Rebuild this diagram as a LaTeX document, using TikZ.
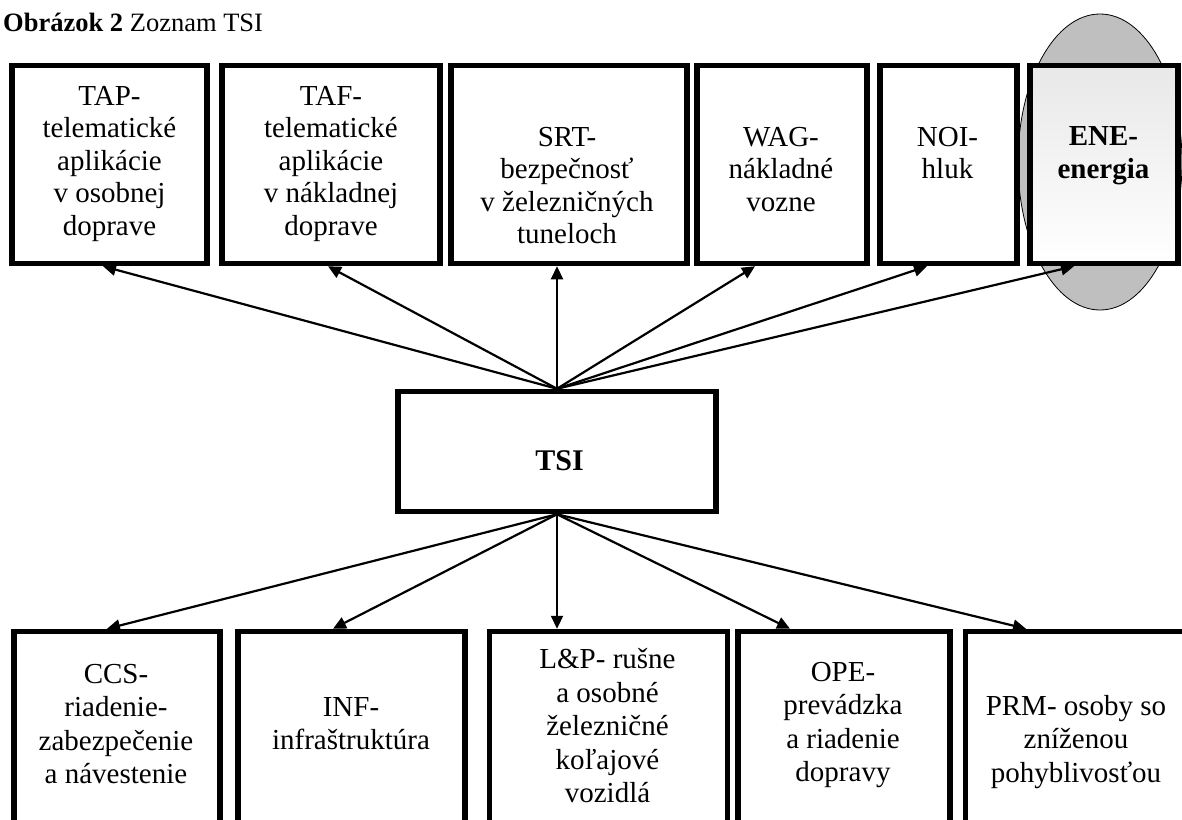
\documentclass[tikz,border=0pt]{standalone}
\usepackage{fontspec}
\setmainfont{Liberation Serif}
\usetikzlibrary{arrows.meta,shapes.geometric}
\begin{document}
\begin{tikzpicture}[x=1pt,y=-1pt,
  box/.style={draw=black,line width=5.5pt,fill=white,inner sep=0pt},
  topbox/.style={box,minimum height=198pt},
  botbox/.style={box,minimum height=268.5pt},
  txt/.style={align=center,inner sep=0pt,anchor=north},
  toptext/.style={txt,font=\fontsize{29}{32.5}\selectfont},
  bottext/.style={txt,font=\fontsize{29}{33.5}\selectfont},
  conn/.style={line width=2.2pt,-{Triangle[length=13pt,width=12pt]}}]
\clip (0,0) rectangle (1182,819);
\fill[white] (0,0) rectangle (1182,819);

% title
\node[anchor=base west,inner sep=0pt,font=\fontsize{26.5}{30}\selectfont] (title) at (3,31) {\textbf{Obrázok 2} Zoznam TSI};

% grey ellipse behind ENE
\node[ellipse,draw=black,line width=0.8pt,fill=black!25,minimum width=164pt,minimum height=296pt,inner sep=0pt] (ell) at (1100,162) {};

% top boxes
\node[topbox,minimum width=195pt] (tap) at (109.5,164.5) {};
\node[topbox,minimum width=218pt] (taf) at (331,164.5) {};
\node[topbox,minimum width=236pt] (srt) at (569,164.5) {};
\node[topbox,minimum width=170pt] (wag) at (782,164.5) {};
\node[topbox,minimum width=137pt] (noi) at (948.5,164.5) {};
\node[topbox,minimum width=148pt,top color=black!9,bottom color=white] (ene) at (1104,164.5) {};

% centre box
\node[box,minimum width=318pt,minimum height=120pt] (tsi) at (557,451.5) {};

% bottom boxes
\node[botbox,minimum width=206pt] (ccs) at (117,765.75) {};
\node[botbox,minimum width=227pt] (inf) at (351.5,765.75) {};
\node[botbox,minimum width=238pt] (lp) at (608.5,765.75) {};
\node[botbox,minimum width=212pt] (ope) at (844,765.75) {};
\node[botbox,minimum width=222.5pt] (prm) at (1076.75,765.75) {};

% texts, top row
\node[toptext] (taptxt) at (109.5,86) {TAP-\\telematické\\aplikácie\\v osobnej\\doprave};
\node[toptext] (taftxt) at (331,86) {TAF-\\telematické\\aplikácie\\v nákladnej\\doprave};
\node[toptext] (srttxt) at (567,126.6) {SRT-\\bezpečnosť\\v železničných\\tuneloch};
\node[toptext] (wagtxt) at (781,126.6) {WAG-\\nákladné\\vozne};
\node[toptext] (noitxt) at (947.5,126.6) {NOI-\\hluk};
\node[toptext,font=\fontsize{29}{32.5}\selectfont\bfseries] (enetxt) at (1103.5,126.4) {ENE-\\energia};

% centre text
\node[anchor=base,inner sep=0pt,font=\fontsize{30}{36}\selectfont\bfseries] (tsitxt) at (559.5,470) {TSI};

% texts, bottom row
\node[bottext] (ccstxt) at (116,663.6) {CCS-\\riadenie-\\zabezpečenie\\a návestenie};
\node[bottext] (inftxt) at (351,697.1) {INF-\\infraštruktúra};
\node[bottext] (lptxt) at (607.5,648.6) {L\&P- rušne\\a osobné\\železničné\\koľajové\\vozidlá};
\node[bottext] (opetxt) at (843,661.6) {OPE-\\prevádzka\\a riadenie\\dopravy};
\node[bottext] (prmtxt) at (1076,695.1) {PRM- osoby so\\zníženou\\pohyblivosťou};

% arrow end points on the boxes
\coordinate (tapin) at ([xshift=-6.5pt]tap.south);
\coordinate (tafin) at ([xshift=-3pt]taf.south);
\coordinate (srtin) at ([xshift=-12pt]srt.south);
\coordinate (wagin) at ([xshift=-27pt]wag.south);
\coordinate (noiin) at ([xshift=-21.5pt]noi.south);
\coordinate (enein) at ([xshift=-30pt]ene.south);
\coordinate (ccsin) at ([xshift=-10pt]ccs.north);
\coordinate (infin) at ([xshift=-18.5pt]inf.north);
\coordinate (lpin) at ([xshift=-51.5pt]lp.north);
\coordinate (opein) at ([xshift=-54pt]ope.north);
\coordinate (prmin) at ([xshift=-50.75pt]prm.north);

% connectors
\draw[conn] (tsi.north) -- (tapin);
\draw[conn] (tsi.north) -- (tafin);
\draw[conn] (tsi.north) -- (srtin);
\draw[conn] (tsi.north) -- (wagin);
\draw[conn] (tsi.north) -- (noiin);
\draw[conn] (tsi.north) -- (enein);
\draw[conn] (tsi.south) -- (ccsin);
\draw[conn] (tsi.south) -- (infin);
\draw[conn] (tsi.south) -- (lpin);
\draw[conn] (tsi.south) -- (opein);
\draw[conn] (tsi.south) -- (prmin);
\end{tikzpicture}
\end{document}
